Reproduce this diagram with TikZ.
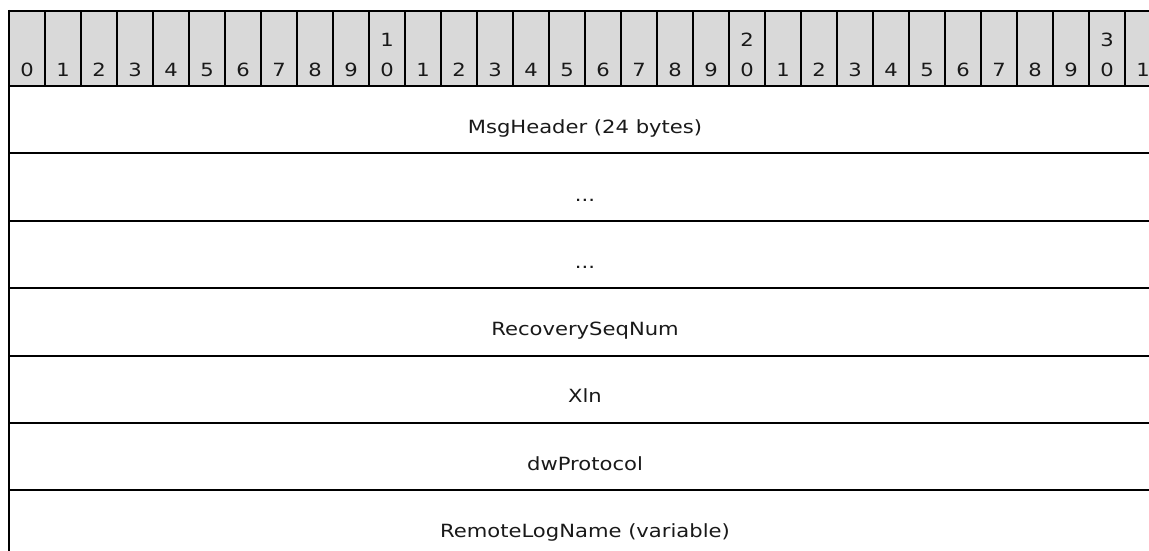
\documentclass[tikz,border=0pt]{standalone}
\usepackage{fontspec}
\setmainfont[FakeStretch=1.16]{DejaVu Sans}
\begin{document}
\begin{tikzpicture}[x=1pt,y=-1pt,
  rule/.style={line width=2pt,black},
  hdrcell/.style={fill=black!15,draw=none},
  digit/.style={anchor=base,inner sep=0pt,font=\fontsize{18.2}{20}\selectfont,text=black!90},
  field/.style={anchor=base,inner sep=0pt,font=\fontsize{18.2}{20}\selectfont,text=black!90}]
\useasboundingbox (0,0) rectangle (1149,551);
% header background
\fill[hdrcell] (9,11) rectangle (1149,86);
% header digits
\foreach \k in {0,...,31}{
  \pgfmathtruncatemacro{\lo}{mod(\k,10)}
  \pgfmathtruncatemacro{\hi}{\k/10}
  \node[digit] (d\k) at (27+36*\k,76.7) {\lo};
  \ifnum\lo=0 \ifnum\k>0
    \node[digit] (u\k) at (27+36*\k,46.7) {\hi};
  \fi\fi
}
% vertical separators in header
\foreach \k in {1,...,31}{
  \draw[rule] (9+36*\k,11) -- (9+36*\k,86);
}
% horizontal rules
\draw[rule] (8,11) -- (1149,11);
\foreach \yy in {86,153.4,220.8,288.2,355.6,423,490.4}{
  \draw[rule] (9,\yy) -- (1149,\yy);
}
% left border
\draw[rule] (9,10) -- (9,551);
% fields
\node[field] (f1) at (585,133.5) {MsgHeader (24 bytes)};
\node[field] (f2) at (585,201.2) {...};
\node[field] (f3) at (585,268.6) {...};
\node[field] (f4) at (585,335.2) {RecoverySeqNum};
\node[field] (f5) at (585,402.6) {Xln};
\node[field] (f6) at (585,470) {dwProtocol};
\node[field] (f7) at (585,537) {RemoteLogName (variable)};
\end{tikzpicture}
\end{document}
